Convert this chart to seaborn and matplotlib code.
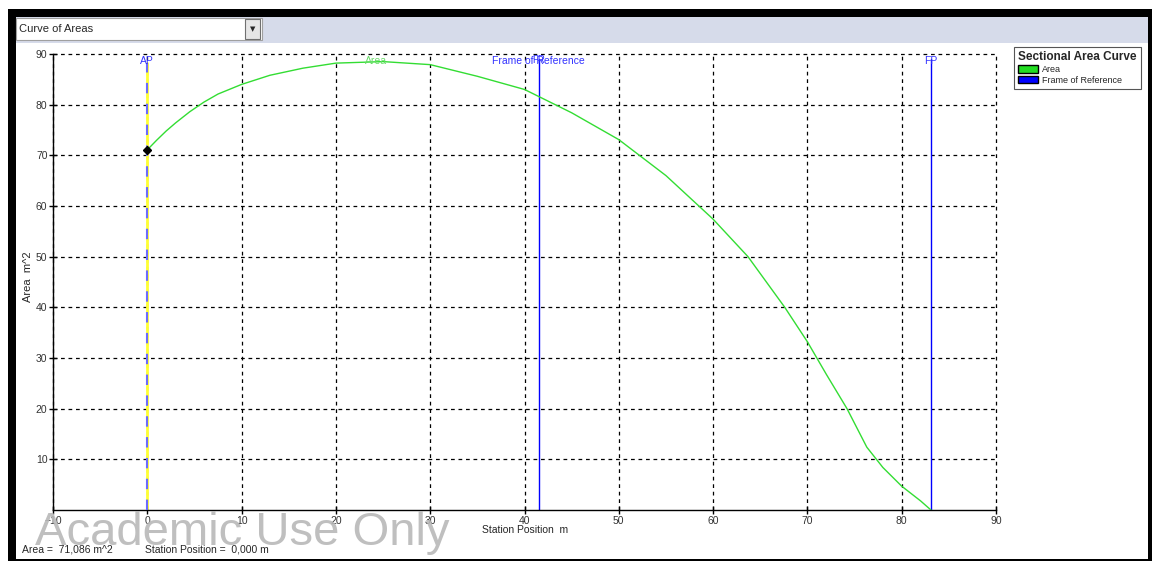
import numpy as np
import pandas as pd
import matplotlib
matplotlib.use("Agg")
import matplotlib.pyplot as plt
from matplotlib.patches import Rectangle, Patch
import seaborn as sns

station = [0, 1, 2, 3, 4.5, 6, 7.5, 10, 13, 16.5, 20, 25, 30, 35, 40, 45, 50, 55, 60, 63.7,
           67.6, 70, 72, 74.2, 76.3, 78, 80, 82, 83.1]
area = [71.086, 73.0, 74.8, 76.4, 78.6, 80.5, 82.1, 84.0, 85.8, 87.2, 88.2, 88.5, 87.9, 85.6,
        83.0, 78.4, 73.1, 66.0, 57.4, 50.0, 40.0, 33.2, 26.8, 20.0, 12.4, 8.4, 4.7, 1.8, 0.0]
markers = ["AP", "Frame of Reference", "FP"]
marker_pos = [0.0, 41.5, 83.1]
x_ticks = list(range(-10, 91, 10))
y_ticks = list(range(10, 91, 10))

sns.set_style("ticks")
plt.rcParams['font.family'] = ['Liberation Sans', 'DejaVu Sans']

df = pd.DataFrame({'station': station, 'area': area})

fig = plt.figure(figsize=(11.52, 5.61), dpi=100)
W, H = 1152, 561

def fx(px):
    return px / W

def fy(py):
    return 1 - py / H

def box(x0, y0, x1, y1, **kw):
    # rectangulo en pixeles de la figura (origen arriba a la izquierda)
    r = Rectangle((fx(x0), fy(y1)), (x1 - x0) / W, (y1 - y0) / H, transform=fig.transFigure, **kw)
    fig.patches.append(r)

# marco negro y barra superior
box(8, 9, 1152, 561, facecolor='black', edgecolor='none', zorder=-3)
box(16, 17, 1148, 559, facecolor='white', edgecolor='none', zorder=-2)
box(16, 17, 1148, 43, facecolor='#d6dbea', edgecolor='none', zorder=-1)
box(16, 18, 262, 40, facecolor='white', edgecolor='#a0a0a0', linewidth=0.8, zorder=-0.5)
box(245, 19, 260, 39, facecolor='#e6e6e6', edgecolor='#707070', linewidth=0.8, zorder=-0.4)
fig.text(fx(19), fy(29), "Curve of Areas", fontsize=8, va='center', ha='left', zorder=4)
fig.text(fx(252.5), fy(29.5), "\u25BC", fontsize=5, va='center', ha='center', zorder=4,
         family=['DejaVu Sans'])

ax = fig.add_axes([fx(53), fy(510), fx(996 - 53), (510 - 54) / H])
ax.set_zorder(2)
ax.set_facecolor('white')

# lineas de referencia
ax.plot([0, 0], [0, 88.2], color='#ffff33', linewidth=2, zorder=2)
ax.plot([0, 0], [0, 88.2], color='#6b6bff', linewidth=1.5, dashes=(5, 5), zorder=3)
ax.plot([marker_pos[1]] * 2, [0, 89], color='#0000ff', linewidth=1, zorder=2)
ax.plot([marker_pos[2]] * 2, [0, 89], color='#0000ff', linewidth=1, zorder=2)

sns.lineplot(data=df, x='station', y='area', color='#33dd33', linewidth=1, ax=ax, zorder=4)
ax.plot([0], [71.086], marker='D', color='black', markersize=4, zorder=5)

for name, pos in zip(markers, marker_pos):
    ax.text(pos, 88.7, name, color='#3333ff', fontsize=7.5, ha='center', va='center', zorder=6)
ax.text(marker_pos[1], 88.9, "FR", color='#3333ff', fontsize=7, ha='center', va='center', zorder=6)
ax.text(24.3, 88.7, "Area", color='#66dd66', fontsize=7.5, ha='center', va='center', zorder=6)

ax.set_xlim(-10, 90)
ax.set_ylim(0, 90)
ax.set_xticks(x_ticks)
ax.set_yticks(y_ticks)
ax.tick_params(axis='both', labelsize=7.5, direction='inout', length=6, width=1, pad=1,
               colors='black', labelcolor='#333333')
ax.grid(True, color='black', linestyle=(0, (3, 3)), linewidth=0.9)
for gl in ax.get_xgridlines() + ax.get_ygridlines():
    gl.set_clip_on(False)
for side in ['top', 'right']:
    ax.spines[side].set_visible(False)
for side in ['left', 'bottom']:
    ax.spines[side].set_color('black')
    ax.spines[side].set_linewidth(1)
ax.set_xlabel("")
ax.set_ylabel("")

fig.text(fx(525), fy(530), "Station Position  m", fontsize=7.5, ha='center', va='center', zorder=4)
fig.text(fx(28), fy(277), "Area  m^2", fontsize=8, ha='center', va='center', rotation=90, zorder=4)

fig.text(fx(22), fy(549), "Area =  71,086 m^2", fontsize=7.5, ha='left', va='center', zorder=4)
fig.text(fx(145), fy(549), "Station Position =  0,000 m", fontsize=7.5, ha='left', va='center',
         zorder=4)

handles = [Patch(facecolor='#22dd22', edgecolor='black', label='Area'),
           Patch(facecolor='#0000ff', edgecolor='black', label='Frame of Reference')]
leg = fig.legend(handles=handles, title="Sectional Area Curve", loc='upper left',
                 bbox_to_anchor=(fx(1014), fy(47)), fontsize=6.5, fancybox=False,
                 edgecolor='#555555', framealpha=1, handlelength=2.2, handleheight=0.9,
                 borderpad=0.45, labelspacing=0.2, handletextpad=0.5, alignment='left',
                 borderaxespad=0)
leg.set_zorder(6)
leg.get_title().set_fontweight('bold')
leg.get_title().set_fontsize(8.5)
leg.get_frame().set_linewidth(0.8)

# marca de agua
fig.text(fx(35), fy(545), "Academic Use Only", fontsize=34, color='#b8b8b8', alpha=0.9,
         ha='left', va='baseline', zorder=10)

plt.savefig('out.png', dpi=100)
